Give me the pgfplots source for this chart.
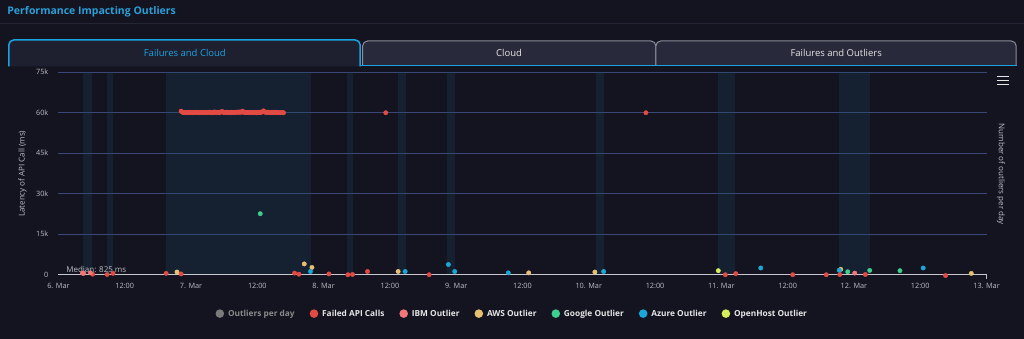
\documentclass[border=0pt]{standalone}
\usepackage{pgfplots}
\pgfplotsset{compat=1.18}
\usepackage{fontspec}
\setmainfont{Open Sans}
\definecolor{bg}{HTML}{13141F}
\definecolor{tabact}{HTML}{1E2030}
\definecolor{tabin}{HTML}{282A3B}
\definecolor{tabborder}{HTML}{8A8D9A}
\definecolor{cyanb}{HTML}{1AA3E0}
\definecolor{titlec}{HTML}{2A9FD8}
\definecolor{sepc}{HTML}{242636}
\definecolor{gridc}{HTML}{3A4777}
\definecolor{bandc}{HTML}{1B4867}
\definecolor{ticklab}{HTML}{BEBEC6}
\definecolor{axisl}{HTML}{C8C8D0}
\definecolor{legtext}{HTML}{E6E6E6}
\definecolor{cRed}{HTML}{E24A44}
\definecolor{cIBM}{HTML}{F27777}
\definecolor{cAWS}{HTML}{E8C072}
\definecolor{cGoogle}{HTML}{3ECF8E}
\definecolor{cAzure}{HTML}{1BA8D8}
\definecolor{cOpen}{HTML}{D6EE5E}
\definecolor{cHid}{HTML}{7A7A7A}
\definecolor{cHidT}{HTML}{8A8A8A}

\begin{document}
\begin{tikzpicture}[x=1pt,y=1pt]
\fill[bg] (0,0) rectangle (1024,339);
% title
\node[anchor=west, inner sep=0pt, text=titlec, font=\fontsize{10.5}{12}\selectfont\bfseries] at (6.7,327) {Performance Impacting Outliers};
\draw[sepc, line width=1pt] (0,315) -- (1024,315);
% tabs
\path[fill=tabin, draw=tabborder, line width=1pt, rounded corners=5pt] (362.5,273) -- (362.5,298) -- (656,298) -- (656,273);
\path[fill=tabin, draw=tabborder, line width=1pt, rounded corners=5pt] (656,273) -- (656,298) -- (1016.7,298) -- (1016.7,273);
\draw[cyanb, line width=1.5pt] (360,273.5) -- (1017,273.5);
\path[fill=tabact, draw=cyanb, line width=1.5pt, rounded corners=5pt] (8.3,272.5) -- (8.3,299) -- (360,299) -- (360,272.5);
\node[text=cyanb, font=\fontsize{9.5}{11}\selectfont] at (184.5,286) {Failures and Cloud};
\node[text=legtext, font=\fontsize{9.5}{11}\selectfont] at (509,286) {Cloud};
\node[text=legtext, font=\fontsize{9.5}{11}\selectfont] at (836.5,286) {Failures and Outliers};
% axis labels
\node[rotate=90, text=ticklab, font=\fontsize{8}{9}\selectfont] at (22,165) {Latency of API Call (ms)};
\node[rotate=-90, text=ticklab, font=\fontsize{8}{9}\selectfont] at (1001.5,164.5) {Number of outliers per day};
% menu icon
\foreach \yy in {262.3,258.4,254.5} \draw[legtext, line width=1.6pt] (997.5,\yy) -- (1009.5,\yy);

\begin{axis}[
  at={(58pt,64pt)}, anchor=south west,
  scale only axis, width=929pt, height=202.7pt,
  xmin=0, xmax=7, ymin=0, ymax=75000,
  clip=false,
  axis line style={draw=none},
  tick style={draw=none},
  /pgf/number format/assume math mode=true,
  xtick={0,0.5,1,1.5,2,2.5,3,3.5,4,4.5,5,5.5,6,6.5,7},
  xticklabels={6. Mar,12:00,7. Mar,12:00,8. Mar,12:00,9. Mar,12:00,10. Mar,12:00,11. Mar,12:00,12. Mar,12:00,13. Mar},
  ytick={0,15000,30000,45000,60000,75000},
  yticklabels={0,15k,30k,45k,60k,75k},
  scaled y ticks=false,
  ymajorgrids, grid style={color=gridc, line width=1.1pt},
  ticklabel style={text=ticklab, font=\fontsize{7.3}{8}\selectfont},
  xticklabel style={anchor=north, inner sep=0pt, yshift=-8pt},
  yticklabel style={anchor=east, inner sep=0pt, xshift=-10pt},
  legend style={at={(0.489,-0.192)}, anchor=center, draw=none, fill=none,
    text=legtext, font=\fontsize{8.3}{9}\selectfont\bfseries, inner sep=0pt,
    /tikz/every even column/.append style={column sep=13pt}},
  legend columns=-1,
  legend image code/.code={\fill[#1,draw=none] (4pt,0pt) circle (4.3pt); \path (0pt,0pt) (10pt,0pt);},
  band/.style={fill=bandc, fill opacity=0.25, draw=none, forget plot},
]
\addplot[band] coordinates {(0.188,0) (0.188,75000) (0.256,75000) (0.256,0)} -- cycle;
\addplot[band] coordinates {(0.369,0) (0.369,75000) (0.414,75000) (0.414,0)} -- cycle;
\addplot[band] coordinates {(0.814,0) (0.814,75000) (1.907,75000) (1.907,0)} -- cycle;
\addplot[band] coordinates {(2.178,0) (2.178,75000) (2.223,75000) (2.223,0)} -- cycle;
\addplot[band] coordinates {(2.562,0) (2.562,75000) (2.622,75000) (2.622,0)} -- cycle;
\addplot[band] coordinates {(2.931,0) (2.931,75000) (2.992,75000) (2.992,0)} -- cycle;
\addplot[band] coordinates {(4.054,0) (4.054,75000) (4.115,75000) (4.115,0)} -- cycle;
\addplot[band] coordinates {(4.974,0) (4.974,75000) (5.102,75000) (5.102,0)} -- cycle;
\addplot[band] coordinates {(5.885,0) (5.885,75000) (6.119,75000) (6.119,0)} -- cycle;
\addplot[axisl, line width=1.2pt, forget plot] coordinates {(0,0) (7,0)};
\addplot[ticklab, line width=0.8pt, forget plot] coordinates {(7,0) (7,-1500)};
\node[anchor=base west, inner sep=0pt, text=ticklab, font=\fontsize{8}{9}\selectfont] at (axis cs:0.058,1000) {Median: 825 ms};

\addlegendimage{color=cHid}
\addlegendentry{\textcolor{cHidT}{Outliers per day}}

\addplot[only marks, mark=*, mark size=2.2pt, color=cRed] coordinates {
(0.258,200) (0.367,100) (0.412,500) (0.812,500) (0.925,300) (1.781,600) (1.814,200)
(2.040,300) (2.183,0) (2.218,100) (2.331,1200) (2.469,60000) (2.796,0) (4.431,60000)
(5.030,0) (5.109,400) (5.538,0) (5.791,0) (5.893,100) (6.086,100) (6.691,-300)
(0.925,60600) (0.932,60300) (0.940,60100) (0.948,60000) (0.955,60150) (0.963,60050)
(0.970,60100) (0.978,60000) (0.986,60200) (0.993,60050) (1.001,60100) (1.008,60000)
(1.016,60150) (1.024,60050) (1.031,60100) (1.039,60200) (1.047,60050) (1.054,60100)
(1.062,60000) (1.070,60150) (1.077,60100) (1.085,60050) (1.093,60200) (1.100,60100)
(1.108,60000) (1.116,60150) (1.123,60050) (1.131,60100) (1.139,60200) (1.146,60050)
(1.154,60100) (1.162,60000) (1.169,60150) (1.177,60300) (1.185,60100) (1.192,60050)
(1.200,60200) (1.208,60100) (1.215,60000) (1.223,60250) (1.234,60500) (1.242,60150)
(1.250,60050) (1.258,60100) (1.266,60200) (1.274,60050) (1.282,60100) (1.290,60150)
(1.298,60000) (1.306,60200) (1.314,60100) (1.322,60050) (1.330,60150) (1.338,60100)
(1.346,60200) (1.354,60250) (1.362,60100) (1.370,60300) (1.380,60150) (1.389,60600)
(1.398,60200) (1.406,60100) (1.414,60050) (1.422,60150) (1.430,60100) (1.438,60200)
(1.446,60000) (1.454,60150) (1.462,60100) (1.470,60050) (1.478,60200) (1.486,60100)
(1.494,60000) (1.502,60150) (1.510,60100) (1.518,60200) (1.526,60050) (1.534,60300)
(1.547,60700) (1.555,60250) (1.563,60150) (1.571,60100) (1.579,60200) (1.587,60050)
(1.595,60100) (1.603,60000) (1.611,60150) (1.619,60100) (1.627,60050) (1.635,60200)
(1.643,60100) (1.651,60000) (1.659,60100) (1.667,60050) (1.675,60000) (1.683,60100)
(1.691,60000) (1.698,60000)
};
\addlegendentry{Failed API Calls}
\addplot[only marks, mark=*, mark size=2.2pt, color=cIBM] coordinates {
(0.180,600) (0.190,500) (0.241,700) (6.006,600)
};
\addlegendentry{IBM Outlier}
\addplot[only marks, mark=*, mark size=2.2pt, color=cAWS] coordinates {
(0.894,1000) (1.854,4000) (1.912,2700) (2.562,1200) (3.547,700) (4.046,1000) (5.900,2000) (6.885,500)
};
\addlegendentry{AWS Outlier}
\addplot[only marks, mark=*, mark size=2.2pt, color=cGoogle] coordinates {
(1.522,22600) (5.953,1100) (6.119,1600) (6.347,1500)
};
\addlegendentry{Google Outlier}
\addplot[only marks, mark=*, mark size=2.2pt, color=cAzure] coordinates {
(1.901,1200) (2.615,1200) (2.941,3800) (2.989,1200) (3.393,700) (4.112,1200) (5.297,2500) (5.889,1700) (6.522,2500)
};
\addlegendentry{Azure Outlier}
\addplot[only marks, mark=*, mark size=2.2pt, color=cOpen] coordinates {
(4.977,1500)
};
\addlegendentry{OpenHost Outlier}
\end{axis}
\end{tikzpicture}
\end{document}
